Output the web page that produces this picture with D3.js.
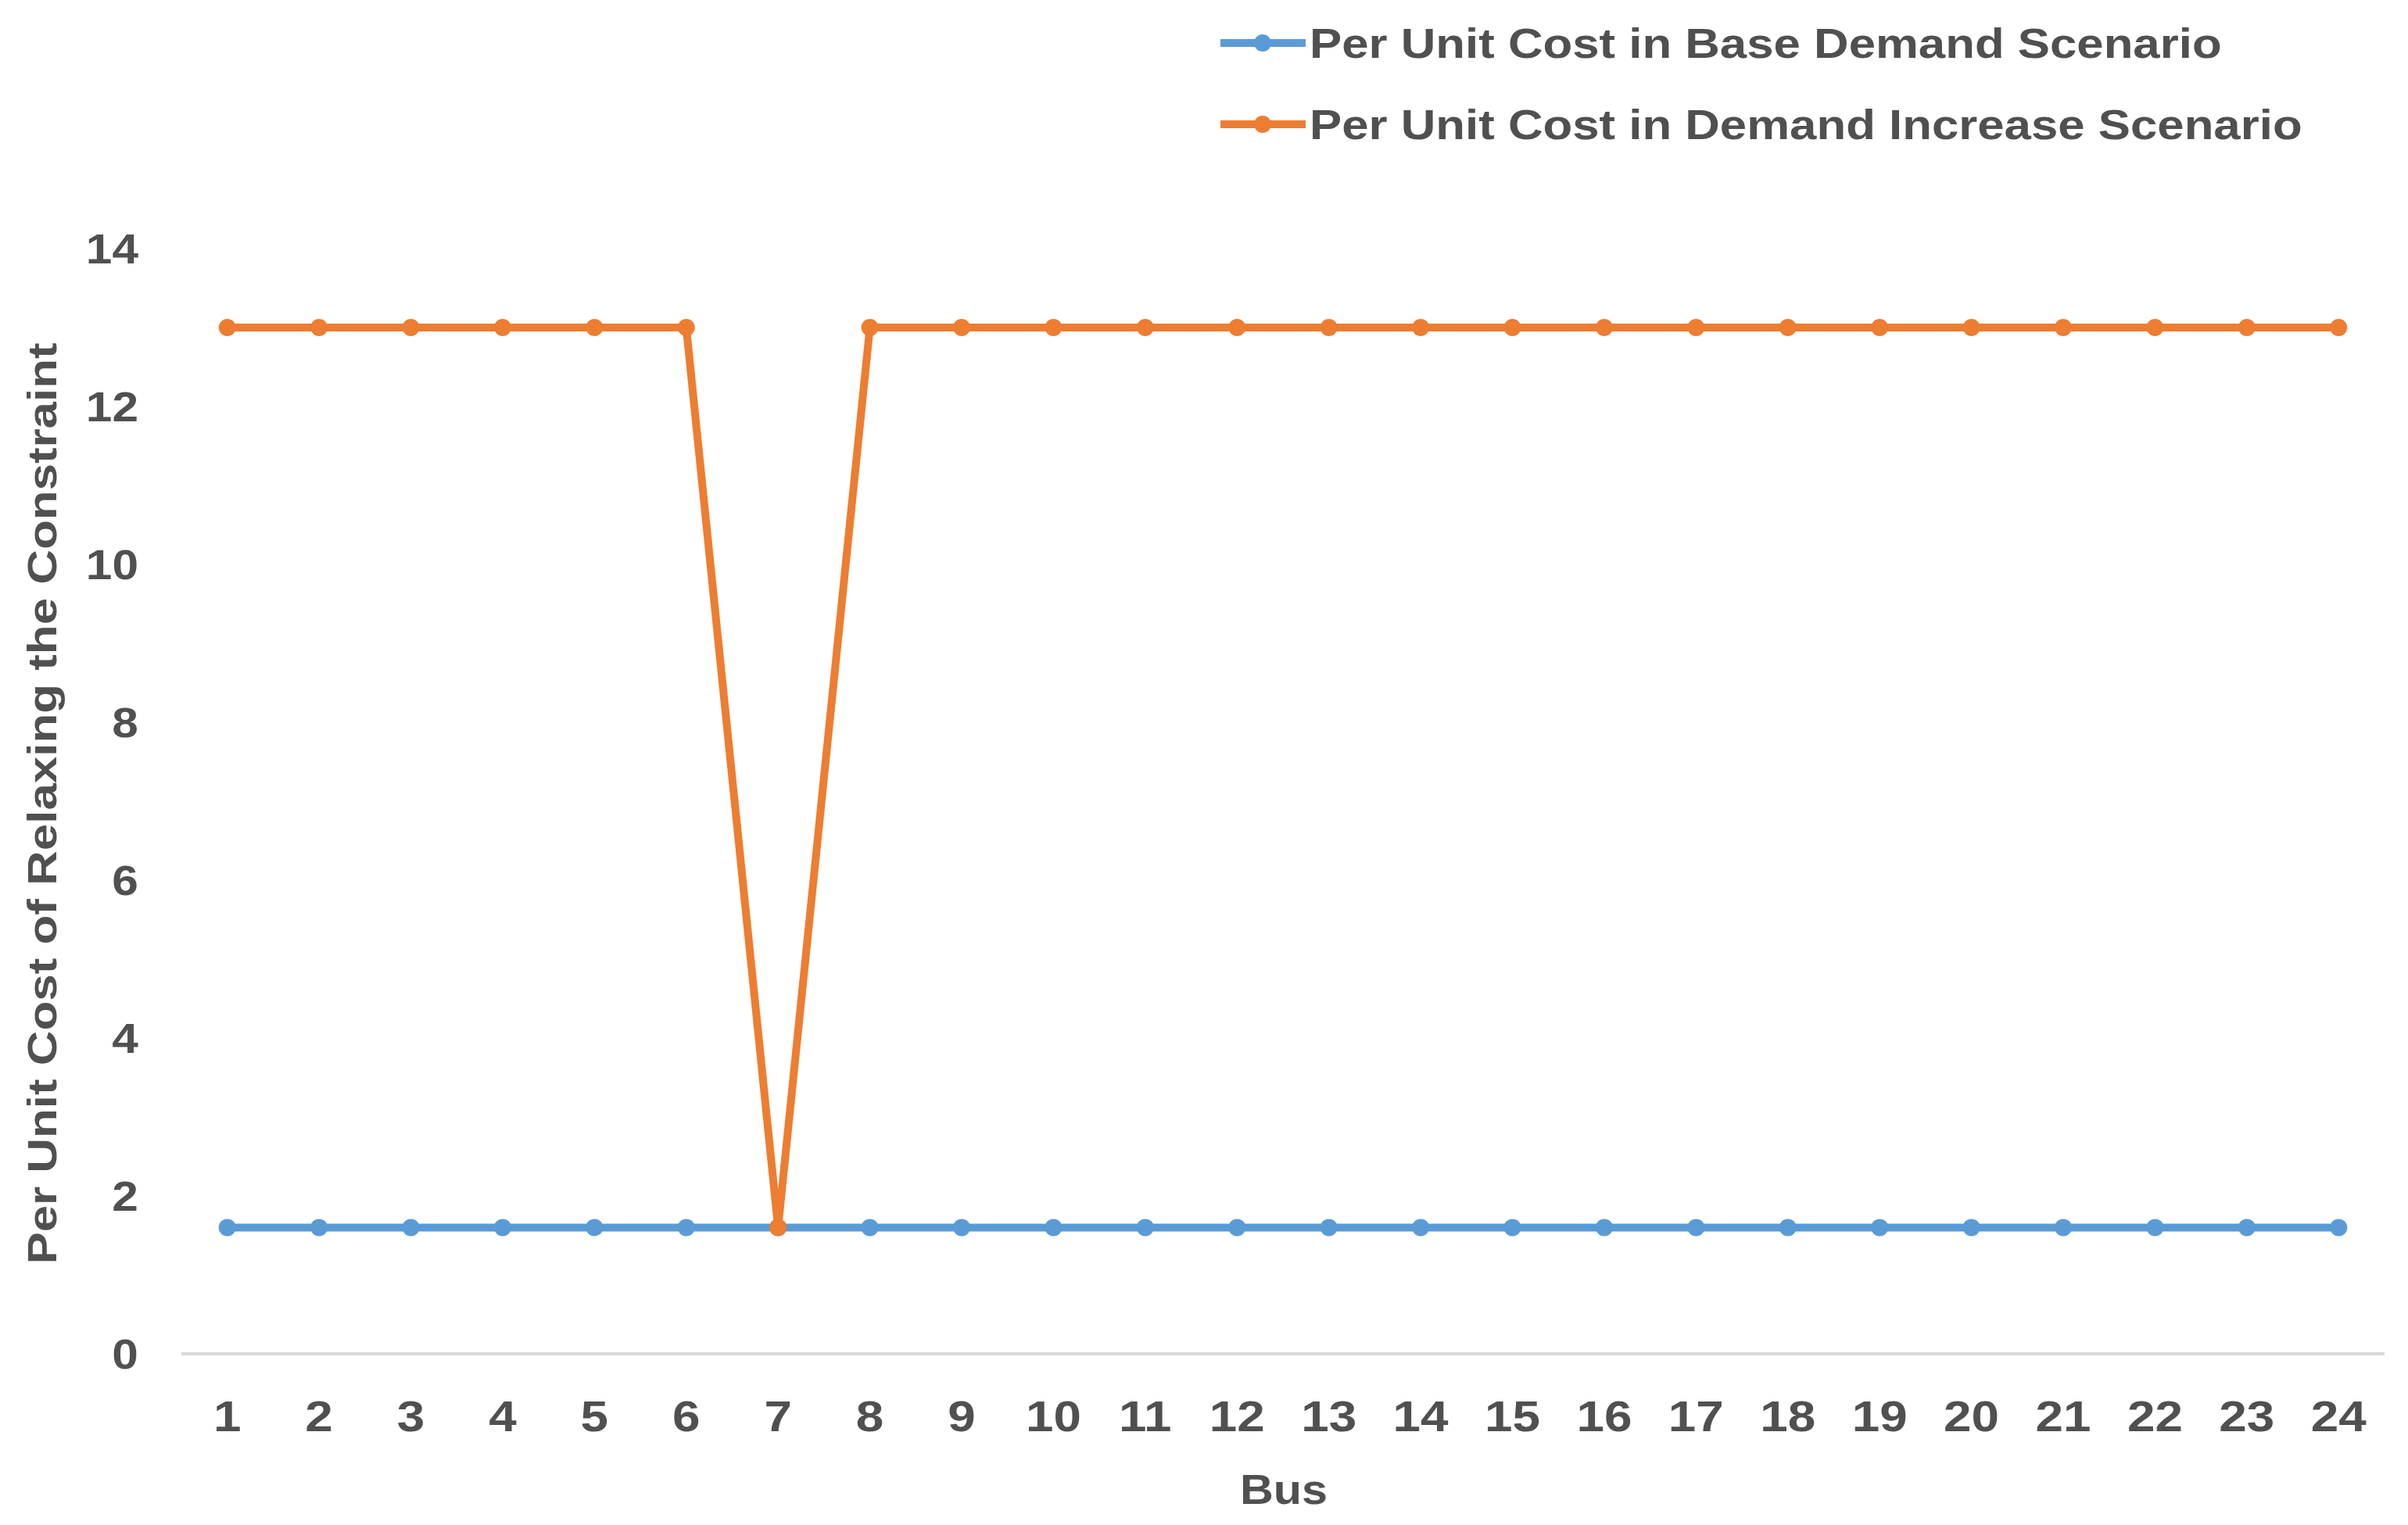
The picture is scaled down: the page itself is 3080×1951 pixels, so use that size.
<!DOCTYPE html>
<html>
<head>
<meta charset="utf-8">
<script src="https://cdn.jsdelivr.net/npm/d3@7"></script>
<style>
  html, body { margin: 0; padding: 0; background: #fff; }
  text { font-family: "Liberation Sans", Arial, sans-serif; font-weight: bold; fill: #505050; }
</style>
</head>
<body>
<svg id="chart" width="3080" height="1951" viewBox="0 0 3080 1951"></svg>
<script>
// chart values
const buses = d3.range(1, 25);
const baseCost = [1.6, 1.6, 1.6, 1.6, 1.6, 1.6, 1.6, 1.6, 1.6, 1.6, 1.6, 1.6,
                  1.6, 1.6, 1.6, 1.6, 1.6, 1.6, 1.6, 1.6, 1.6, 1.6, 1.6, 1.6];
const increaseCost = [13, 13, 13, 13, 13, 13, 1.6, 13, 13, 13, 13, 13,
                      13, 13, 13, 13, 13, 13, 13, 13, 13, 13, 13, 13];
const yTicks = [0, 2, 4, 6, 8, 10, 12, 14];
const seriesNames = ["Per Unit Cost in Base Demand Scenario",
                     "Per Unit Cost in Demand Increase Scenario"];
const seriesColors = ["#5B9BD5", "#ED7D31"];

const svgEl = d3.select("#chart");

// plot area
const plot = { left: 232, right: 3050, top: 318, bottom: 1732 };

const xScale = d3.scalePoint()
  .domain(buses)
  .range([plot.left, plot.right])
  .padding(0.5);

const yScale = d3.scaleLinear()
  .domain([0, 14])
  .range([plot.bottom, plot.top]);

// the original font is wider than Liberation Sans, so stretch text sideways
function stretch(sel, factor) {
  sel.each(function () {
    const len = this.getComputedTextLength();
    d3.select(this)
      .attr("textLength", len * factor)
      .attr("lengthAdjust", "spacingAndGlyphs");
  });
}

// x axis line
svgEl.append("line")
  .attr("x1", plot.left)
  .attr("x2", plot.right)
  .attr("y1", yScale(0))
  .attr("y2", yScale(0))
  .attr("stroke", "#D9D9D9")
  .attr("stroke-width", 4);

// x tick labels
svgEl.append("g")
  .selectAll("text")
  .data(buses)
  .enter()
  .append("text")
  .attr("x", (d) => xScale(d))
  .attr("y", 1811)
  .attr("dy", "0.36em")
  .style("text-anchor", "middle")
  .style("font-size", "56px")
  .text((d) => d)
  .call(stretch, 1.14);

// y tick labels
svgEl.append("g")
  .selectAll("text")
  .data(yTicks)
  .enter()
  .append("text")
  .attr("x", 177)
  .attr("y", (d) => yScale(d))
  .attr("dy", "0.36em")
  .style("text-anchor", "end")
  .style("font-size", "53px")
  .text((d) => d)
  .call(stretch, 1.14);

// axis titles
svgEl.append("text")
  .attr("x", 1642)
  .attr("y", 1905)
  .attr("dy", "0.36em")
  .style("text-anchor", "middle")
  .style("font-size", "53px")
  .text("Bus")
  .call(stretch, 1.12);

svgEl.append("text")
  .attr("transform", "translate(53 1028) rotate(-90)")
  .attr("dy", "0.36em")
  .style("text-anchor", "middle")
  .style("font-size", "52px")
  .text("Per Unit Cost of Relaxing the Constraint")
  .call(stretch, 1.19);

// series
const series = [baseCost, increaseCost];
const line = d3.line()
  .x((d, i) => xScale(buses[i]))
  .y((d) => yScale(d));

series.forEach((values, k) => {
  const g = svgEl.append("g").attr("class", "series" + k);
  g.append("path")
    .datum(values)
    .attr("d", line)
    .attr("fill", "none")
    .attr("stroke", seriesColors[k])
    .attr("stroke-width", 10)
    .attr("stroke-linejoin", "round");
  g.selectAll("circle")
    .data(values)
    .enter()
    .append("circle")
    .attr("cx", (d, i) => xScale(buses[i]))
    .attr("cy", (d) => yScale(d))
    .attr("r", 11)
    .attr("fill", seriesColors[k]);
});

// legend
const legend = svgEl.append("g").attr("class", "legend");
const legendRows = legend.selectAll("g")
  .data(seriesNames)
  .enter()
  .append("g")
  .attr("transform", (d, i) => `translate(1561 ${55 + i * 104})`);

legendRows.append("line")
  .attr("x1", 0)
  .attr("x2", 109)
  .attr("stroke", (d, i) => seriesColors[i])
  .attr("stroke-width", 10);

legendRows.append("circle")
  .attr("cx", 54)
  .attr("r", 11)
  .attr("fill", (d, i) => seriesColors[i]);

legendRows.append("text")
  .attr("x", 114)
  .attr("dy", "0.36em")
  .style("font-size", "53px")
  .text((d) => d)
  .call(stretch, 1.165);
</script>
</body>
</html>
